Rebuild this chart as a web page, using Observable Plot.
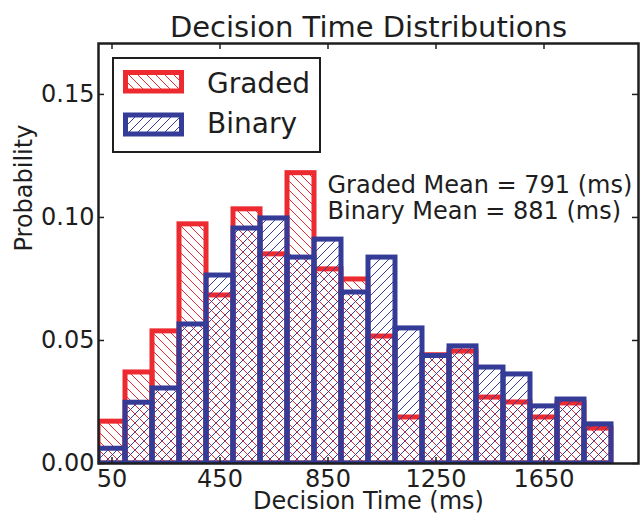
<!DOCTYPE html>
<html>
<head>
<meta charset="utf-8">
<script src="https://cdn.jsdelivr.net/npm/d3@7"></script>
<script src="https://cdn.jsdelivr.net/npm/@observablehq/plot@0.6"></script>
<style>
  html, body { margin: 0; padding: 0; background: white; }
</style>
</head>
<body>
<div id="chart"></div>
<script>
// ---- data ----
const binStart = [0, 100, 200, 300, 400, 500, 600, 700, 800, 900, 1000, 1100, 1200, 1300, 1400, 1500, 1600, 1700, 1800];
const binWidth = 100;
const gradedProb = [0.017, 0.037, 0.0537, 0.0972, 0.0683, 0.1033, 0.085, 0.118, 0.0789, 0.0748, 0.0516, 0.0187, 0.0440, 0.0455, 0.0268, 0.0248, 0.0187, 0.0244, 0.0142];
const binaryProb = [0.006, 0.0247, 0.0305, 0.0565, 0.0764, 0.0955, 0.0996, 0.0837, 0.091, 0.0695, 0.0837, 0.0549, 0.0437, 0.0476, 0.039, 0.0362, 0.0232, 0.026, 0.0159];
const xTicks = [50, 450, 850, 1250, 1650];
const yTicks = [0, 0.05, 0.10, 0.15];
const seriesNames = ["Graded", "Binary"];
const annotationLines = ["Graded Mean = 791 (ms)", "Binary Mean = 881 (ms)"];
const titleText = "Decision Time Distributions";
const xLabel = "Decision Time (ms)";
const yLabel = "Probability";

const RED = "#ec2a2f";
const BLUE = "#343c97";
const INK = "#1e1e1e";

const bins = binStart.map((s, i) => ({x0: s, x1: s + binWidth, graded: gradedProb[i], binary: binaryProb[i]}));

const W = 640, H = 514;
const mL = 98, mR = 2, mT = 43, mB = 51;
const fw = W - mL - mR, fh = H - mT - mB;
const tick = 6;

const svg = Plot.plot({
  width: W, height: H,
  marginLeft: mL, marginRight: mR, marginTop: mT, marginBottom: mB,
  style: {fontFamily: "DejaVu Sans", background: "white", color: INK},
  x: {domain: [0, 2000]},
  y: {domain: [0, 0.1707]},
  marks: [
    Plot.rect(bins, {x1: "x0", x2: "x1", y1: () => 0, y2: "graded", fill: "url(#hatchRed)", stroke: RED, strokeWidth: 5, strokeLinejoin: "miter", clip: true}),
    Plot.rect(bins, {x1: "x0", x2: "x1", y1: () => 0, y2: "binary", fill: "url(#hatchBlue)", stroke: BLUE, strokeWidth: 5, strokeLinejoin: "miter", clip: true}),
    // inward ticks, all four sides
    Plot.ruleY(yTicks, {y: d => d, insetRight: fw - tick, stroke: INK, strokeWidth: 1.5}),
    Plot.ruleY(yTicks, {y: d => d, insetLeft: fw - tick, stroke: INK, strokeWidth: 1.5}),
    Plot.ruleX(xTicks, {x: d => d, insetTop: fh - tick, stroke: INK, strokeWidth: 1.5}),
    Plot.ruleX(xTicks, {x: d => d, insetBottom: fh - tick, stroke: INK, strokeWidth: 1.5}),
    Plot.axisY({ticks: yTicks, tickSize: 0, tickPadding: 4, tickFormat: d => d.toFixed(2), fontSize: 24, label: null, fill: INK}),
    Plot.axisX({ticks: xTicks, tickSize: 0, tickPadding: 6, tickFormat: d => String(d), fontSize: 24, label: null, fill: INK}),
    Plot.frame({stroke: INK, strokeWidth: 2.5}),
    Plot.text([titleText], {frameAnchor: "top", lineAnchor: "middle", text: d => d, dy: -16, fontSize: 29, fill: INK}),
    Plot.text([xLabel], {frameAnchor: "bottom", lineAnchor: "middle", text: d => d, dy: 38, fontSize: 24, fill: INK}),
    Plot.text([yLabel], {frameAnchor: "left", lineAnchor: "middle", text: d => d, dx: -74.5, dy: -2, rotate: -90, fontSize: 24, fill: INK}),
    Plot.text([annotationLines.join("\n")], {frameAnchor: "top-left", text: d => d, textAnchor: "start", lineAnchor: "top", dx: 229, dy: 132, fontSize: 24, lineHeight: 1.05, fill: INK})
  ]
});

// hatch patterns
const s = d3.select(svg);
const defs = s.insert("defs", ":first-child");
function addHatch(id, color, back) {
  const p = defs.append("pattern").attr("id", id).attr("patternUnits", "userSpaceOnUse").attr("width", 9).attr("height", 9);
  const d = back ? "M0,0L9,9M-1,8L1,10M8,-1L10,1" : "M0,9L9,0M-1,1L1,-1M8,10L10,8";
  p.append("path").attr("d", d).attr("stroke", color).attr("stroke-width", 1).attr("fill", "none");
}
addHatch("hatchRed", RED, true);
addHatch("hatchBlue", BLUE, false);

// legend (inside axes, upper left)
const lg = s.append("g").attr("font-family", "DejaVu Sans").attr("text-anchor", "start");
lg.append("rect").attr("x", 113).attr("y", 58).attr("width", 207).attr("height", 94)
  .attr("fill", "white").attr("stroke", INK).attr("stroke-width", 2);
const legendItems = [
  {name: seriesNames[0], color: RED, fill: "url(#hatchRed)", y: 72.5, h: 18.5, ty: 92.5},
  {name: seriesNames[1], color: BLUE, fill: "url(#hatchBlue)", y: 115, h: 19, ty: 133}
];
legendItems.forEach(it => {
  lg.append("rect").attr("x", 125.5).attr("y", it.y).attr("width", 56).attr("height", it.h)
    .attr("fill", it.fill).attr("stroke", it.color).attr("stroke-width", 5);
  lg.append("text").attr("x", 207).attr("y", it.ty).attr("font-size", 28).attr("fill", INK)
    .attr("text-anchor", "start").text(it.name);
});

document.getElementById("chart").appendChild(svg);
</script>
</body>
</html>
